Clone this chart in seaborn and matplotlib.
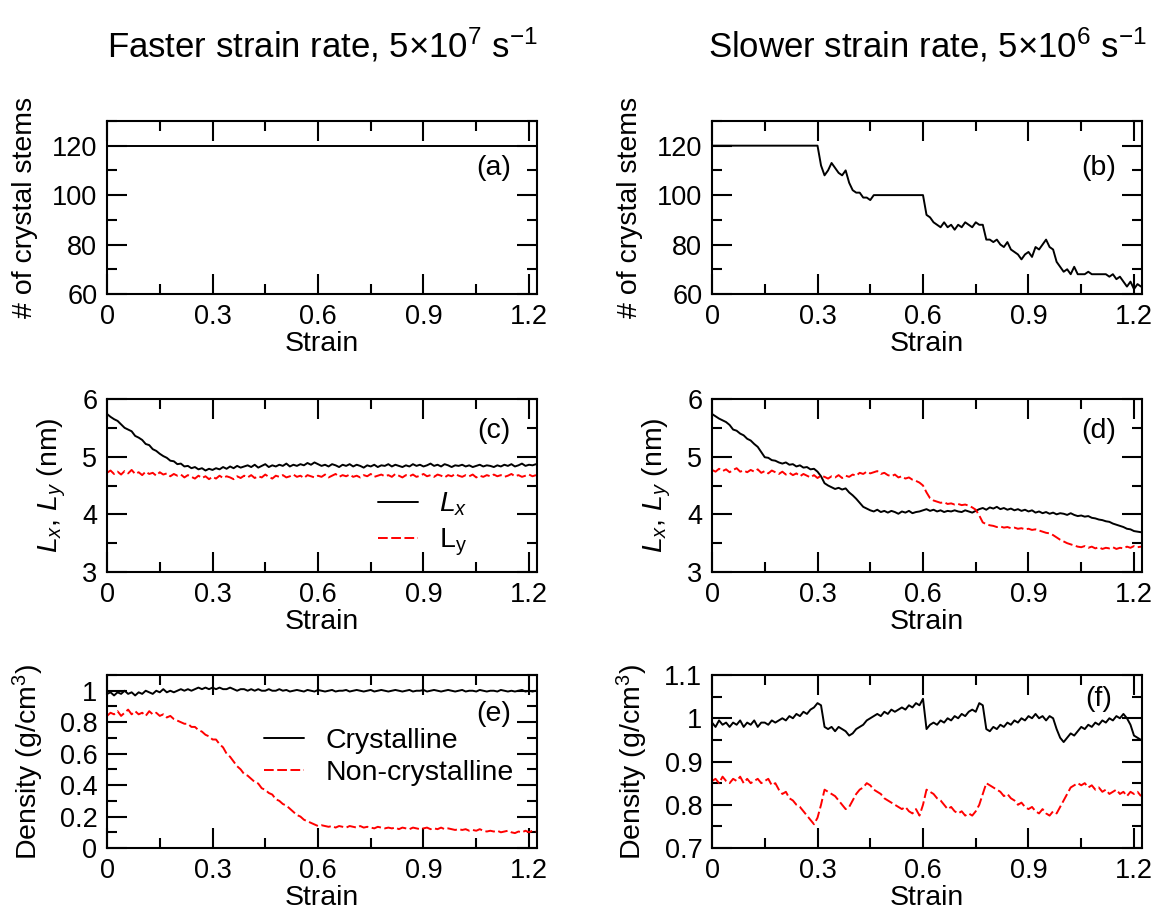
import numpy as np
import matplotlib
matplotlib.use("Agg")
import matplotlib.pyplot as plt
from matplotlib.ticker import MultipleLocator
import seaborn as sns

# strain grid shared by all panels (0.00 .. 1.22, step 0.01)
strain = np.round(np.arange(123) * 0.01, 2)

# (a) faster rate: number of crystal stems stays at 120
stems_fast = [120] * 123

# (b) slower rate: number of crystal stems
stems_slow = ([120] * 30 +
    [120, 112, 108, 110, 113, 111, 109, 108, 110, 105,
     102, 101, 101, 99, 99, 98, 100, 100, 100, 100,
     100, 100, 100, 100, 100, 100, 100, 100, 100, 100,
     100, 92, 91, 89, 88, 87, 89, 87, 88, 86,
     88, 87, 89, 88, 87, 89, 88, 88, 82, 82,
     81, 82, 80, 79, 81, 78, 77, 76, 74, 76,
     77, 75, 79, 78, 80, 82, 79, 78, 73, 71,
     69, 70, 68, 71, 68, 68, 68, 69, 68, 68,
     68, 68, 68, 67, 68, 66, 67, 65, 63, 65,
     62, 64, 63])

# (c) faster rate: box lengths (nm)
lx_fast = [5.74, 5.69, 5.65, 5.62, 5.56, 5.50, 5.47, 5.44, 5.36, 5.33,
           5.29, 5.22, 5.20, 5.13, 5.10, 5.05, 5.01, 4.98, 4.93, 4.92,
           4.87, 4.88, 4.83, 4.84, 4.80, 4.82, 4.78, 4.80, 4.76, 4.79,
           4.77, 4.80, 4.78, 4.82, 4.79, 4.83, 4.80, 4.84, 4.81, 4.83,
           4.85, 4.82, 4.86, 4.81, 4.84, 4.87, 4.82, 4.85, 4.83, 4.86,
           4.84, 4.88, 4.83, 4.86, 4.84, 4.87, 4.85, 4.89, 4.86, 4.90,
           4.87, 4.84, 4.86, 4.83, 4.87, 4.85, 4.82, 4.86, 4.84, 4.87,
           4.83, 4.86, 4.84, 4.81, 4.85, 4.83, 4.86, 4.82, 4.85, 4.84,
           4.87, 4.83, 4.86, 4.84, 4.82, 4.85, 4.83, 4.87, 4.84, 4.86,
           4.83, 4.85, 4.88, 4.84, 4.86, 4.83, 4.87, 4.85, 4.82, 4.85,
           4.84, 4.86, 4.83, 4.85, 4.82, 4.84, 4.86, 4.83, 4.85, 4.84,
           4.82, 4.85, 4.83, 4.86, 4.84, 4.87, 4.83, 4.85, 4.88, 4.84,
           4.86, 4.85, 4.87]
ly_fast = [4.72, 4.76, 4.70, 4.74, 4.69, 4.75, 4.71, 4.77, 4.70, 4.73,
           4.68, 4.74, 4.70, 4.72, 4.67, 4.73, 4.69, 4.71, 4.66, 4.70,
           4.67, 4.69, 4.64, 4.68, 4.65, 4.62, 4.67, 4.63, 4.66, 4.61,
           4.65, 4.62, 4.67, 4.63, 4.66, 4.64, 4.61, 4.66, 4.63, 4.67,
           4.64, 4.68, 4.63, 4.66, 4.64, 4.69, 4.65, 4.62, 4.67, 4.65,
           4.68, 4.64, 4.66, 4.69, 4.65, 4.67, 4.63, 4.68, 4.66, 4.64,
           4.67, 4.65, 4.69, 4.64, 4.67, 4.70, 4.65, 4.68, 4.66, 4.69,
           4.65, 4.67, 4.64, 4.68, 4.66, 4.70, 4.65, 4.67, 4.69, 4.66,
           4.68, 4.65, 4.70, 4.67, 4.64, 4.68, 4.66, 4.69, 4.65, 4.67,
           4.70, 4.66, 4.68, 4.65, 4.69, 4.67, 4.64, 4.68, 4.66, 4.70,
           4.67, 4.65, 4.68, 4.66, 4.69, 4.64, 4.67, 4.65, 4.68, 4.66,
           4.69, 4.66, 4.68, 4.65, 4.67, 4.70, 4.66, 4.68, 4.65, 4.67,
           4.69, 4.66, 4.68]

# (d) slower rate: box lengths (nm)
lx_slow = [5.74, 5.70, 5.66, 5.63, 5.60, 5.55, 5.47, 5.45, 5.40, 5.37,
           5.31, 5.28, 5.22, 5.17, 5.08, 4.99, 4.98, 4.94, 4.93, 4.90,
           4.88, 4.90, 4.86, 4.87, 4.83, 4.85, 4.81, 4.82, 4.78, 4.79,
           4.74, 4.66, 4.54, 4.50, 4.47, 4.44, 4.46, 4.43, 4.45, 4.38,
           4.33, 4.27, 4.20, 4.13, 4.10, 4.07, 4.05, 4.08, 4.04, 4.06,
           4.03, 4.06, 4.04, 4.01, 4.05, 4.03, 4.06, 4.02, 4.04, 4.05,
           4.07, 4.09, 4.06, 4.08, 4.05, 4.07, 4.04, 4.06, 4.05, 4.07,
           4.05, 4.04, 4.07, 4.05, 4.03, 4.06, 4.09, 4.11, 4.08, 4.12,
           4.10, 4.13, 4.09, 4.11, 4.08, 4.10, 4.07, 4.09, 4.06, 4.08,
           4.05, 4.07, 4.03, 4.05, 4.02, 4.04, 4.01, 4.03, 4.00, 4.02,
           4.01, 3.99, 4.02, 3.99, 3.97, 3.98, 3.96, 3.97, 3.94, 3.93,
           3.91, 3.90, 3.88, 3.87, 3.84, 3.82, 3.80, 3.78, 3.75, 3.74,
           3.71, 3.70, 3.69]
ly_slow = [4.77, 4.74, 4.79, 4.75, 4.78, 4.73, 4.77, 4.80, 4.74, 4.76,
           4.73, 4.77, 4.74, 4.78, 4.72, 4.75, 4.71, 4.76, 4.73, 4.70,
           4.74, 4.69, 4.72, 4.68, 4.71, 4.66, 4.70, 4.67, 4.64, 4.68,
           4.63, 4.67, 4.65, 4.62, 4.66, 4.64, 4.68, 4.63, 4.67, 4.65,
           4.69, 4.67, 4.72, 4.70, 4.74, 4.71, 4.73, 4.75, 4.70, 4.72,
           4.68, 4.66, 4.69, 4.64, 4.66, 4.62, 4.64, 4.60, 4.58, 4.55,
           4.50, 4.38, 4.28, 4.24, 4.22, 4.20, 4.21, 4.18, 4.19, 4.17,
           4.18, 4.16, 4.17, 4.15, 4.12, 4.08, 3.98, 3.86, 3.83, 3.81,
           3.80, 3.78, 3.79, 3.77, 3.78, 3.76, 3.77, 3.75, 3.76, 3.74,
           3.75, 3.73, 3.74, 3.72, 3.70, 3.68, 3.67, 3.64, 3.60, 3.56,
           3.53, 3.50, 3.48, 3.46, 3.44, 3.43, 3.45, 3.42, 3.44, 3.41,
           3.43, 3.40, 3.42, 3.41, 3.43, 3.40, 3.42, 3.41, 3.44, 3.42,
           3.45, 3.43, 3.44]

# (e) faster rate: density (g/cm3)
cryst_fast = [0.98, 0.99, 0.97, 0.99, 0.98, 1.00, 0.98, 0.99, 0.97, 0.99,
              0.98, 1.00, 0.99, 0.98, 1.00, 0.99, 1.01, 0.99, 1.00, 0.99,
              1.00, 1.01, 1.00, 1.01, 1.00, 1.01, 1.02, 1.01, 1.02, 1.01,
              1.02, 1.01, 1.02, 1.01, 1.01, 1.02, 1.01, 1.00, 1.01, 1.01,
              1.00, 1.01, 1.00, 1.01, 1.00, 1.00, 1.01, 1.00, 1.00, 1.01,
              1.000, 1.005, 0.995, 1.000, 1.005, 1.000, 0.995, 1.005, 1.000, 0.995,
              1.005, 1.000, 0.995, 1.000, 1.005, 0.995, 1.000, 1.000, 1.005, 0.995,
              1.000, 1.005, 1.000, 0.995, 1.000, 1.005, 0.995, 1.000, 1.005, 1.000,
              0.995, 1.000, 1.005, 1.000, 0.995, 1.000, 1.005, 0.995, 1.000, 1.000,
              1.005, 0.995, 1.000, 1.005, 1.000, 0.995, 1.000, 1.005, 1.000, 0.995,
              1.000, 1.005, 0.995, 1.000, 1.000, 0.995, 1.005, 1.000, 0.995, 1.000,
              1.000, 0.995, 1.005, 1.000, 0.995, 1.000, 0.995, 1.000, 1.005, 0.995,
              1.000, 0.995, 1.000]
amorph_fast = [0.84, 0.86, 0.85, 0.87, 0.84, 0.86, 0.88, 0.85, 0.87, 0.85,
               0.86, 0.84, 0.87, 0.85, 0.86, 0.84, 0.85, 0.83, 0.84, 0.82,
               0.81, 0.80, 0.79, 0.79, 0.77, 0.77, 0.75, 0.74, 0.72, 0.71,
               0.69, 0.69, 0.66, 0.64, 0.60, 0.58, 0.55, 0.52, 0.50, 0.47,
               0.46, 0.44, 0.42, 0.41, 0.38, 0.37, 0.35, 0.34, 0.31, 0.30,
               0.28, 0.27, 0.25, 0.23, 0.21, 0.20, 0.18, 0.17, 0.16, 0.15,
               0.14, 0.145, 0.14, 0.135, 0.14, 0.13, 0.14, 0.135, 0.13, 0.14,
               0.135, 0.13, 0.14, 0.13, 0.135, 0.13, 0.125, 0.135, 0.13, 0.125,
               0.13, 0.125, 0.13, 0.12, 0.13, 0.125, 0.12, 0.13, 0.125, 0.12,
               0.125, 0.13, 0.12, 0.125, 0.12, 0.13, 0.12, 0.125, 0.12, 0.115,
               0.12, 0.115, 0.12, 0.11, 0.115, 0.11, 0.12, 0.11, 0.105, 0.11,
               0.105, 0.11, 0.10, 0.105, 0.11, 0.10, 0.095, 0.105, 0.10, 0.11,
               0.10, 0.11, 0.105]

# (f) slower rate: density (g/cm3)
cryst_slow = [0.99, 0.98, 0.995, 0.985, 0.99, 0.98, 0.99, 0.985, 0.995, 0.98,
              0.99, 0.985, 0.995, 0.98, 0.99, 0.99, 0.985, 0.995, 0.99, 0.995,
              1.00, 0.995, 1.005, 1.00, 1.01, 1.005, 1.015, 1.01, 1.02, 1.025,
              1.035, 1.03, 0.98, 0.975, 0.98, 0.97, 0.98, 0.975, 0.97, 0.96,
              0.965, 0.975, 0.98, 0.985, 0.995, 1.00, 1.005, 1.01, 1.005, 1.015,
              1.01, 1.02, 1.015, 1.02, 1.025, 1.02, 1.03, 1.025, 1.035, 1.03,
              1.045, 0.975, 0.985, 0.99, 0.985, 0.995, 0.99, 1.00, 0.995, 1.005,
              1.00, 1.01, 1.005, 1.015, 1.02, 1.015, 1.035, 1.03, 0.975, 0.97,
              0.98, 0.975, 0.985, 0.98, 0.99, 0.985, 0.995, 0.99, 1.00, 0.995,
              1.005, 1.00, 1.01, 1.00, 1.005, 0.995, 1.005, 1.00, 0.975, 0.955,
              0.945, 0.955, 0.965, 0.96, 0.97, 0.98, 0.975, 0.985, 0.98, 0.99,
              0.985, 0.995, 0.99, 1.00, 0.995, 1.005, 1.00, 1.01, 1.00, 0.985,
              0.96, 0.955, 0.95]
amorph_slow = [0.855, 0.86, 0.85, 0.865, 0.855, 0.85, 0.86, 0.855, 0.865, 0.85,
               0.86, 0.85, 0.855, 0.86, 0.85, 0.855, 0.86, 0.845, 0.85, 0.835,
               0.825, 0.83, 0.815, 0.81, 0.80, 0.795, 0.785, 0.775, 0.765, 0.755,
               0.77, 0.80, 0.835, 0.83, 0.825, 0.82, 0.81, 0.80, 0.79, 0.795,
               0.81, 0.825, 0.835, 0.84, 0.85, 0.845, 0.835, 0.83, 0.825, 0.815,
               0.81, 0.805, 0.80, 0.795, 0.79, 0.795, 0.785, 0.78, 0.79, 0.775,
               0.80, 0.835, 0.83, 0.825, 0.815, 0.81, 0.80, 0.79, 0.795, 0.785,
               0.78, 0.785, 0.775, 0.78, 0.775, 0.785, 0.80, 0.825, 0.85, 0.845,
               0.84, 0.835, 0.83, 0.82, 0.825, 0.815, 0.81, 0.80, 0.805, 0.795,
               0.79, 0.795, 0.785, 0.78, 0.79, 0.78, 0.775, 0.785, 0.78, 0.795,
               0.81, 0.825, 0.84, 0.845, 0.85, 0.845, 0.85, 0.84, 0.845, 0.835,
               0.84, 0.83, 0.835, 0.825, 0.83, 0.835, 0.825, 0.83, 0.82, 0.83,
               0.825, 0.83, 0.82]

titles = ["Faster strain rate, 5\u00d710$^{7}$ s$^{-1}$",
          "Slower strain rate, 5\u00d710$^{6}$ s$^{-1}$"]
panel_tags = [["(a)", "(b)"], ["(c)", "(d)"], ["(e)", "(f)"]]
strain_ticks = [0, 0.3, 0.6, 0.9, 1.2]
strain_ticklabels = ["0", "0.3", "0.6", "0.9", "1.2"]

# ------------------------------
# style
# ------------------------------
sns.set_style("ticks")
plt.rcParams["font.family"] = ["Liberation Sans", "DejaVu Sans"]
plt.rcParams["mathtext.fontset"] = "custom"
plt.rcParams["mathtext.rm"] = "Liberation Sans"
plt.rcParams["mathtext.it"] = "Liberation Sans:italic"
plt.rcParams["mathtext.bf"] = "Liberation Sans:bold"
for key in ["text.color", "axes.labelcolor", "xtick.color", "ytick.color",
            "axes.edgecolor"]:
    plt.rcParams[key] = "black"

TICK_FS = 19.5
LABEL_FS = 20.5
RED_DASH = (0, (5, 1.8))
LW = 1.4

fig = plt.figure(figsize=(11.57, 9.17), dpi=100)
col_x = [0.0925, 0.6154]
row_y = [0.6794, 0.3762, 0.0752]
w, h = 0.3717, 0.1887
axes = [[fig.add_axes([cx, ry, w, h]) for cx in col_x] for ry in row_y]


def style_axis(ax, ylim, ymajor, yminor):
    ax.set_xlim(0, 1.223)
    ax.set_ylim(*ylim)
    ax.set_xticks(strain_ticks)
    ax.set_xticklabels(strain_ticklabels)
    ax.xaxis.set_minor_locator(MultipleLocator(0.15))
    ax.yaxis.set_major_locator(MultipleLocator(ymajor))
    ax.yaxis.set_minor_locator(MultipleLocator(yminor))
    ax.tick_params(which="both", direction="in", top=True, right=True,
                   width=1.5, labelsize=TICK_FS, pad=7)
    ax.tick_params(which="major", length=14.5)
    ax.tick_params(which="minor", length=7.2)
    for sp in ax.spines.values():
        sp.set_linewidth(1.5)
        sp.set_color("black")
    ax.set_xlabel("Strain", fontsize=LABEL_FS, labelpad=1)


# row 1: crystal stems
for j, stems in enumerate([stems_fast, stems_slow]):
    ax = axes[0][j]
    sns.lineplot(x=strain, y=stems, ax=ax, color="black", lw=LW,
                 estimator=None)
    style_axis(ax, (60, 130), 20, 10)
    ax.set_yticks([60, 80, 100, 120])
    ax.set_ylabel("# of crystal stems", fontsize=LABEL_FS, labelpad=10)
    ax.text(1.10, 111, panel_tags[0][j], fontsize=LABEL_FS,
            ha="center", va="center")

# row 2: box lengths
for j, (lx, ly) in enumerate([(lx_fast, ly_fast), (lx_slow, ly_slow)]):
    ax = axes[1][j]
    sns.lineplot(x=strain, y=lx, ax=ax, color="black", lw=LW,
                 estimator=None, label="$L_x$")
    sns.lineplot(x=strain, y=ly, ax=ax, color="red", lw=LW,
                 estimator=None, linestyle=RED_DASH, label="L$_\\mathrm{y}$")
    style_axis(ax, (3, 6), 1, 0.5)
    ax.set_ylabel("$L_x$, $L_y$ (nm)", fontsize=LABEL_FS, labelpad=10)
    ax.text(1.10, 5.45, panel_tags[1][j], fontsize=LABEL_FS,
            ha="center", va="center")
    if j == 0:
        ax.legend(loc="center left", bbox_to_anchor=(0.77 / 1.223, 0.275),
                  frameon=False, fontsize=LABEL_FS, handlelength=1.4,
                  handletextpad=0.75, borderpad=0, borderaxespad=0,
                  labelspacing=0.3)
    else:
        ax.get_legend().remove()

# row 3: densities
for j, (cr, am) in enumerate([(cryst_fast, amorph_fast), (cryst_slow, amorph_slow)]):
    ax = axes[2][j]
    sns.lineplot(x=strain, y=cr, ax=ax, color="black", lw=LW,
                 estimator=None, label="Crystalline")
    sns.lineplot(x=strain, y=am, ax=ax, color="red", lw=LW,
                 estimator=None, linestyle=RED_DASH, label="Non-crystalline")
    if j == 0:
        style_axis(ax, (0, 1.1), 0.2, 0.1)
        ax.set_yticks([0, 0.2, 0.4, 0.6, 0.8, 1.0])
        ax.set_yticklabels(["0", "0.2", "0.4", "0.6", "0.8", "1"])
        ax.text(1.10, 0.85, panel_tags[2][j], fontsize=LABEL_FS,
                ha="center", va="center")
        ax.legend(loc="center left", bbox_to_anchor=(0.447 / 1.223, 0.526),
                  frameon=False, fontsize=LABEL_FS, handlelength=1.4,
                  handletextpad=0.75, borderpad=0, borderaxespad=0,
                  labelspacing=0.2)
    else:
        style_axis(ax, (0.7, 1.1), 0.1, 0.05)
        ax.set_yticks([0.7, 0.8, 0.9, 1.0, 1.1])
        ax.set_yticklabels(["0.7", "0.8", "0.9", "1", "1.1"])
        ax.text(1.10, 1.045, panel_tags[2][j], fontsize=LABEL_FS,
                ha="center", va="center")
        ax.get_legend().remove()
    ax.set_ylabel("Density (g/cm$^3$)", fontsize=LABEL_FS, labelpad=10)

# column titles
for j, t in enumerate(titles):
    fig.text(col_x[j] + w / 2, 1 - 45 / 917, t, fontsize=25,
             ha="center", va="center")

fig.savefig("out.png", dpi=100)
